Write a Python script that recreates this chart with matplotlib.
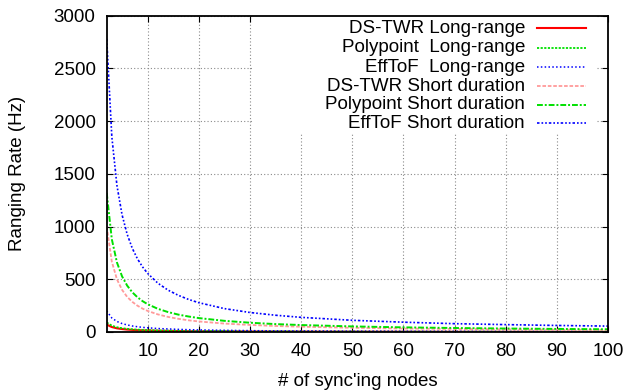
import numpy as np
import matplotlib.pyplot as plt
from matplotlib.patches import Rectangle

plt.rcParams['font.family'] = ['Liberation Sans', 'DejaVu Sans']

# number of sync'ing nodes
nodes = [2, 3, 4, 5, 6, 7, 8, 9, 10, 12, 14, 16, 18, 20, 25, 30, 35, 40, 50, 60, 70, 80, 90, 100]

# long-range ranging rates (Hz)
dstwr_long = [70, 47, 35, 28, 23, 20, 17.5, 15.6, 14, 11.7, 10, 8.8, 7.8, 7, 5.6, 4.7, 4, 3.5, 2.8, 2.3, 2, 1.8, 1.6, 1.4]
poly_long = [90, 60, 45, 36, 30, 26, 22.5, 20, 18, 15, 12.9, 11.3, 10, 9, 7.2, 6, 5.1, 4.5, 3.6, 3, 2.6, 2.3, 2, 1.8]
eff_long = [200, 133, 100, 80, 67, 57, 50, 44, 40, 33, 29, 25, 22, 20, 16, 13, 11, 10, 8, 7, 6, 5, 4.4, 4]

# short-duration ranging rates (Hz)
dstwr_short = [1000, 667, 500, 400, 333, 286, 250, 222, 200, 167, 143, 125, 111, 100, 80, 67, 57, 50, 40, 33, 29, 25, 22, 20]
poly_short = [1320, 880, 660, 528, 440, 377, 330, 293, 264, 220, 189, 165, 147, 132, 106, 88, 75, 66, 53, 44, 38, 33, 29, 26]
eff_short = [2780, 1853, 1390, 1112, 927, 794, 695, 618, 556, 463, 397, 348, 309, 278, 222, 185, 159, 139, 111, 93, 79, 70, 62, 56]

labels = ['DS-TWR Long-range', 'Polypoint  Long-range', 'EffToF  Long-range',
          'DS-TWR Short duration', 'Polypoint Short duration', 'EffToF Short duration']
series = [dstwr_long, poly_long, eff_long, dstwr_short, poly_short, eff_short]

# gnuplot-ish styles
styles = [
    dict(color='#ff0000', lw=1.5, ls='-'),
    dict(color='#00e000', lw=1.3, ls=(0, (1.2, 0.8))),
    dict(color='#0000ff', lw=1.1, ls=(0, (1, 1.5))),
    dict(color='#ff9a9a', lw=1.3, ls=(0, (2, 1))),
    dict(color='#00e000', lw=1.4, ls=(0, (3, 1, 1, 1))),
    dict(color='#0000ff', lw=1.2, ls=(0, (1.5, 1.2, 1, 1.2, 1, 1.2))),
]

L, R, T, B = 106.7, 608, 15.7, 332
fig = plt.figure(figsize=(6.27, 3.92), dpi=100)
ax = fig.add_axes([L / 627, 1 - B / 392, (R - L) / 627, (B - T) / 392])

for vals, st in zip(series, styles):
    ax.plot(nodes, vals, zorder=3, **st)

ax.set_xlim(2, 100)
ax.set_ylim(0, 3000)
ax.set_xticks(np.arange(10, 101, 10))
ax.set_yticks(np.arange(0, 3001, 500))
ax.grid(True, color='#8a8a8a', lw=0.8, ls=(0, (1, 2)), zorder=1)
ax.tick_params(direction='in', length=4, width=0.8, top=True, right=True,
               labelsize=13.5, pad=8)
for sp in ax.spines.values():
    sp.set_linewidth(1.3)
    sp.set_zorder(4)

ax.set_xlabel("# of sync'ing nodes", fontsize=13.5, labelpad=9)
ax.set_ylabel('Ranging Rate (Hz)', fontsize=13.5, labelpad=20)

# legend box (white, no border) like gnuplot
def px2ax(x, y):
    return (x - L) / (R - L), (B - y) / (B - T)

x0, y0 = px2ax(253, 133)
x1, y1 = px2ax(597, T)
ax.add_patch(Rectangle((x0, y0), x1 - x0, y1 - y0, transform=ax.transAxes,
                       facecolor='white', edgecolor='none', zorder=2))

legend_y = [28, 47.5, 67, 86, 104.5, 123]
for lab, st, ly in zip(labels, styles, legend_y):
    tx, ty = px2ax(525, ly)
    ax.text(tx, ty, lab, transform=ax.transAxes, ha='right', va='center',
            fontsize=13.5, zorder=5)
    lx0, _ = px2ax(537, ly)
    lx1, _ = px2ax(586, ly)
    ax.plot([lx0, lx1], [ty, ty], transform=ax.transAxes, zorder=5, **st)

fig.savefig('out.png', dpi=100)
